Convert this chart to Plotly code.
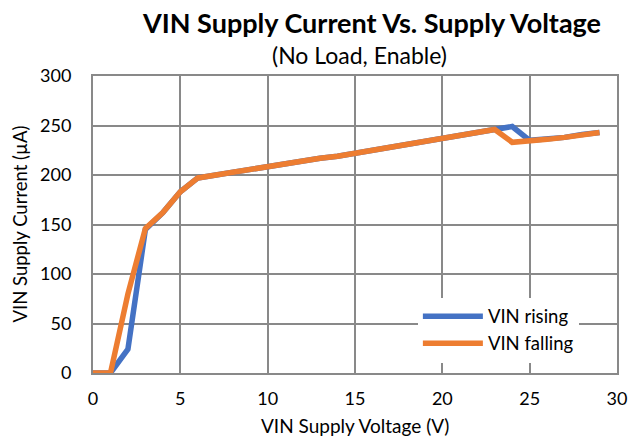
import plotly.graph_objects as go

voltage = list(range(0, 30))
rising = [0, 0, 24, 145, 162, 183, 197, 200, 203, 206, 208, 211, 214, 217, 219,
          222, 225, 228, 231, 233, 236, 239, 242, 245, 249, 235, 236, 238, 241, 243]
falling = [0, 0, 80, 146, 162, 183, 197, 200, 203, 206, 208, 211, 214, 217, 219,
           222, 225, 228, 231, 233, 236, 239, 242, 246, 233, 234, 236, 238, 241, 243]

font = "Lato, 'Open Sans', sans-serif"
grid = "#898989"

fig = go.Figure()
fig.add_trace(go.Scatter(x=voltage, y=rising, mode="lines", name="VIN rising",
                         line=dict(color="#4472C4", width=5.5)))
fig.add_trace(go.Scatter(x=voltage, y=falling, mode="lines", name="VIN falling",
                         line=dict(color="#ED7D31", width=5.5)))

fig.update_layout(
    width=629, height=438,
    margin=dict(l=93, r=12, t=76, b=65),
    paper_bgcolor="white", plot_bgcolor="white",
    font=dict(family=font, size=18, color="black"),
    legend=dict(x=0.62, y=0.035, xanchor="left", yanchor="bottom",
                bgcolor="white", font=dict(size=18.5), tracegroupgap=0,
                itemwidth=60),
    showlegend=True,
)
fig.add_annotation(text="<b>VIN Supply Current Vs. Supply Voltage</b>", xref="paper", yref="paper",
                   x=0.531, y=1.0, yshift=54, xanchor="center", yanchor="middle",
                   showarrow=False, font=dict(size=27))
fig.add_annotation(text="(No Load, Enable)", xref="paper", yref="paper",
                   x=0.508, y=1.0, yshift=21, xanchor="center", yanchor="middle",
                   showarrow=False, font=dict(size=23))
fig.add_annotation(text="VIN Supply Voltage (V)", xref="paper", yref="paper",
                   x=0.5, y=0, yshift=-52, xanchor="center", yanchor="middle",
                   showarrow=False, font=dict(size=19))
fig.add_annotation(text="VIN Supply Current (µA)", xref="paper", yref="paper",
                   x=0, xshift=-74, y=0.5, xanchor="center", yanchor="middle",
                   textangle=-90, showarrow=False, font=dict(size=18.5))
fig.update_xaxes(range=[0, 30], dtick=5, showgrid=True, gridcolor=grid, gridwidth=2,
                 showline=True, linecolor=grid, linewidth=2, mirror=True,
                 zeroline=False, ticks="", tickfont=dict(size=18), automargin=False,
                 ticklabelstandoff=8)
fig.update_yaxes(range=[0, 300], dtick=50, showgrid=True, gridcolor=grid, gridwidth=2,
                 showline=True, linecolor=grid, linewidth=2, mirror=True,
                 zeroline=False, ticks="", tickfont=dict(size=18), automargin=False,
                 ticklabelstandoff=16)

fig.write_html("out.html", post_script="document.body.style.margin='0';",
               config={"displayModeBar": False})
